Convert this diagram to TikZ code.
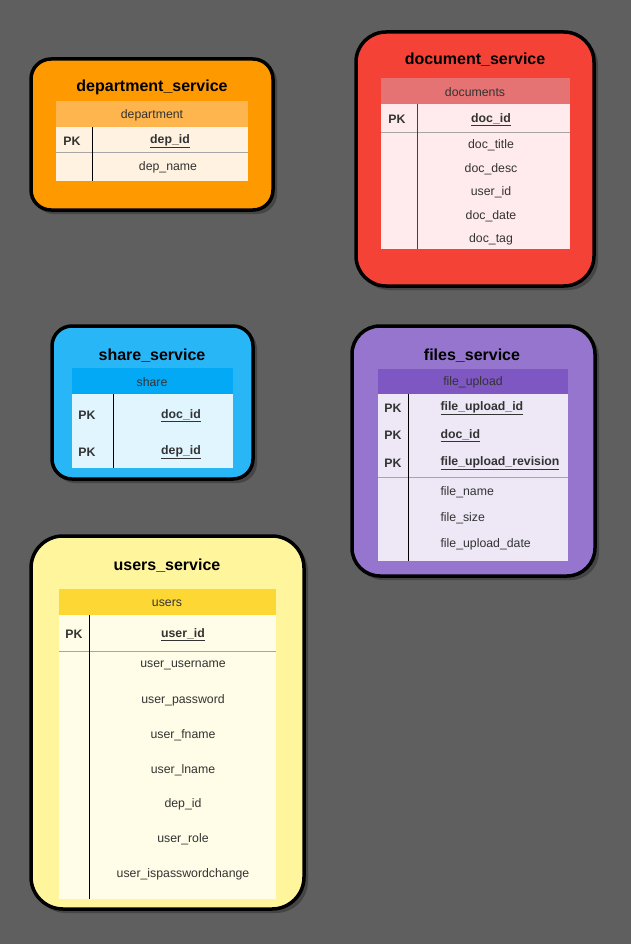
\documentclass[tikz,border=0pt]{standalone}
\usepackage{fontspec}
\setmainfont{Liberation Sans}
\usetikzlibrary{calc}

\definecolor{bgc}{HTML}{5F5F5F}
\definecolor{shdc}{HTML}{454545}
\definecolor{txtc}{HTML}{333333}
\definecolor{depout}{HTML}{FF9900}\definecolor{dephd}{HTML}{FFB54D}\definecolor{depbd}{HTML}{FFF2E0}
\definecolor{docout}{HTML}{F44336}\definecolor{dochd}{HTML}{E57373}\definecolor{docbd}{HTML}{FFEBEE}
\definecolor{shrout}{HTML}{29B6F6}\definecolor{shrhd}{HTML}{03A9F4}\definecolor{shrbd}{HTML}{E1F5FE}
\definecolor{filout}{HTML}{9575CD}\definecolor{filhd}{HTML}{7E57C2}\definecolor{filbd}{HTML}{EDE7F6}
\definecolor{usrout}{HTML}{FFF59D}\definecolor{usrhd}{HTML}{FDD835}\definecolor{usrbd}{HTML}{FFFDE7}

\begin{document}
\begin{tikzpicture}[x=1pt,y=-1pt,
  svc/.style={draw=black,line width=3.5pt},
  shd/.style={fill=shdc},
  ttl/.style={font=\bfseries\fontsize{16}{19}\selectfont,text=black,yshift=-1.5pt},
  fld/.style={font=\fontsize{12.3}{14}\selectfont,text=txtc,yshift=-1.5pt},
  pkf/.style={font=\bfseries\fontsize{12.3}{14}\selectfont,text=txtc,yshift=-1.5pt},
  sepline/.style={draw=black!35,line width=0.9pt},
  colline/.style={draw=black,line width=1pt}]
	\fill[bgc] (0,0) rectangle (631,944); %背景
	\useasboundingbox (0,0) rectangle (631,944);

	% department_service
	\fill[shd,rounded corners=20pt] (34,62) rectangle (277,214);
	\filldraw[svc,fill=depout,rounded corners=20pt] (31,59) rectangle (273,210);
	\node[ttl] (depttl) at (152,86) {department\_service};
	\fill[dephd] (56,101) rectangle (248,127);
	\fill[depbd] (56,127) rectangle (248,181);
	\draw[sepline] (56,152)--(248,152);
	\draw[colline] (92,127)--(92,181);
	\node[fld] (dephead) at (152,114) {department};
	\node[pkf] (deppk) at (72,140) {PK};
	\node[pkf] (depid) at (170,140) {\underline{dep\_id}};
	\node[fld] (depname) at (168,166) {dep\_name};

	% document_service
	\fill[shd,rounded corners=30pt] (359,35) rectangle (598,290);
	\filldraw[svc,fill=docout,rounded corners=30pt] (356,32) rectangle (594,286);
	\node[ttl] (docttl) at (475,58) {document\_service};
	\fill[dochd] (381,78) rectangle (570,104);
	\fill[docbd] (381,104) rectangle (570,249);
	\draw[sepline] (381,132)--(570,132);
	\draw[colline,draw=black!75] (417,104)--(417,249);
	\node[fld] (dochead) at (475,91) {documents};
	\node[pkf] (docpk) at (397,118) {PK};
	\node[pkf] (docid) at (491,118) {\underline{doc\_id}};
	\foreach \t/\y [count=\i] in {doc\_title/144,doc\_desc/168,user\_id/191,doc\_date/215,doc\_tag/238}
		\node[fld] (docf\i) at (491,\y) {\t};

	% share_service
	\fill[shd,rounded corners=20pt] (55,329) rectangle (257,483);
	\filldraw[svc,fill=shrout,rounded corners=20pt] (52,326) rectangle (253,479);
	\node[ttl] (shrttl) at (152,354) {share\_service};
	\fill[shrhd] (72,368) rectangle (233,394);
	\fill[shrbd] (72,394) rectangle (233,468);
	\draw[colline] (113,394)--(113,468);
	\node[fld] (shrhead) at (152,381) {share};
	\node[pkf] (shrpk1) at (87,414) {PK};
	\node[pkf] (shrpk2) at (87,451) {PK};
	\node[pkf] (shrdoc) at (181,414) {\underline{doc\_id}};
	\node[pkf] (shrdep) at (181,451) {\underline{dep\_id}};

	% files_service
	\fill[shd,rounded corners=28pt] (355,329) rectangle (599,580);
	\filldraw[svc,fill=filout,rounded corners=28pt] (352,326) rectangle (595,576);
	\node[ttl] (filttl) at (472,354) {files\_service};
	\fill[filhd] (378,369) rectangle (568,394);
	\fill[filbd] (378,394) rectangle (568,561);
	\draw[sepline] (378,477)--(568,477);
	\draw[colline] (408,394)--(408,561);
	\node[fld] (filhead) at (473,381) {file\_upload};
	\foreach \t/\y [count=\i] in {file\_upload\_id/407,doc\_id/434,file\_upload\_revision/462}{
		\node[pkf] (filpk\i) at (393,\y) {PK};
		\node[pkf,anchor=west] (filid\i) at (437,\y) {\underline{\t}};}
	\foreach \t/\y [count=\i] in {file\_name/491,file\_size/517,file\_upload\_date/543}
		\node[fld,anchor=west] (filf\i) at (437,\y) {\t};

	% users_service
	\fill[shd,rounded corners=32pt] (34,539) rectangle (308,913);
	\filldraw[svc,fill=usrout,rounded corners=32pt] (31,536) rectangle (304,909);
	\node[ttl] (usrttl) at (167,564) {users\_service};
	\fill[usrhd] (59,589) rectangle (276,615);
	\fill[usrbd] (59,615) rectangle (276,899);
	\draw[sepline] (59,651)--(276,651);
	\draw[colline] (89,615)--(89,899);
	\node[fld] (usrhead) at (167,602) {users};
	\node[pkf] (usrpk) at (74,633) {PK};
	\node[pkf] (usrid) at (183,633) {\underline{user\_id}};
	\foreach \t/\y [count=\i] in {user\_username/664,user\_password/699,user\_fname/734,user\_lname/769,dep\_id/803,user\_role/838,user\_ispasswordchange/873}
		\node[fld] (usrf\i) at (183,\y) {\t};
\end{tikzpicture}
\end{document}
